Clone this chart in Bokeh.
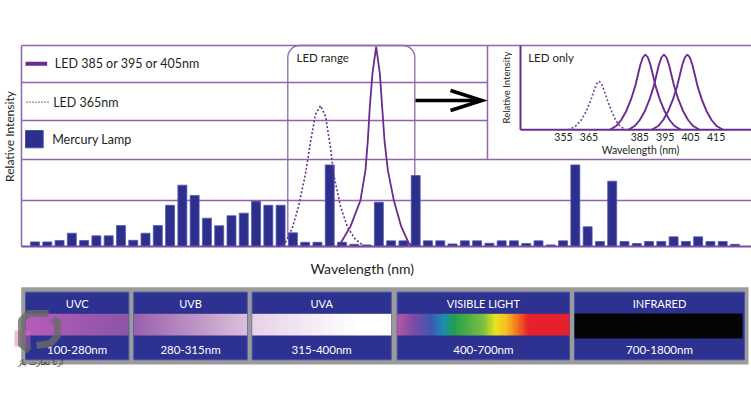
import math
import numpy as np
from bokeh.plotting import figure
from bokeh.models import Range1d
from bokeh.core.properties import value
from bokeh.embed import file_html
from bokeh.resources import INLINE

# ---------------- data ----------------
lamp_bin = list(range(1, 59))
lamp_intensity = [2.3, 2.3, 3.0, 6.6, 3.0, 5.3, 5.3, 10.4, 3.1, 6.6,
                  10.4, 20.5, 30.5, 25.4, 14.1, 10.3, 15.3, 16.6, 22.5, 20.5,
                  20.5, 6.8, 2.1, 2.1, 40.6, 2.1, 1.1, 0.8, 22.0, 2.8,
                  2.8, 35.3, 2.8, 2.8, 1.3, 2.8, 2.8, 1.6, 2.8, 2.8,
                  1.5, 2.8, 0.8, 2.8, 40.6, 9.8, 2.5, 32.5, 2.5, 1.5,
                  2.5, 2.5, 4.8, 2.5, 4.8, 2.5, 2.5, 1.1]

led365_pos = [20.83, 21.40, 21.97, 22.46, 23.03, 23.44, 23.84, 24.25, 24.66,
              25.07, 25.31, 25.88, 26.45, 27.10, 27.74]
led365_int = [0, 2.0, 9.5, 19.9, 36.3, 52.2, 65.7, 70.1, 64.7, 48.8, 36.3,
              19.9, 9.5, 3.5, 0.5]
led_main_pos = [25.71, 25.87, 26.69, 27.50, 27.91, 28.10, 28.26, 28.48, 28.78,
                29.08, 29.27, 29.46, 29.73, 30.22, 30.82, 31.44, 31.66]
led_main_int = [0, 1.5, 10, 22.9, 38.0, 52.7, 69.2, 86.1, 99.5, 86.1, 69.2,
                52.7, 38.0, 22.9, 10, 1.5, 0]

# inset "LED only" (wavelength nm, relative intensity)
inset_ticks = [355, 365, 385, 395, 405, 415]
inset365_nm = [356.7, 359.5, 361.8, 364.0, 365.7, 367.0, 368.0, 369.0, 370.0,
               371.0, 372.3, 374.0, 375.6, 377.5, 379.6]
inset365_rel = [0, 0.04, 0.12, 0.25, 0.39, 0.52, 0.61, 0.645, 0.61, 0.52,
                0.39, 0.24, 0.12, 0.04, 0]
inset385_nm = [373.2, 375.7, 377.7, 379.7, 381.5, 383.2, 384.2, 385.2, 386.2,
               387.2, 388.2, 389.2, 390.2, 391.2, 392.9, 394.7, 396.7, 398.7, 401.2]
inset395_nm = [380.5, 383.0, 385.0, 387.0, 388.8, 390.5, 391.5, 392.5, 393.5,
               394.5, 395.5, 396.5, 397.5, 398.5, 400.2, 402.0, 404.0, 406.0, 408.5]
inset405_nm = [389.7, 392.2, 394.2, 396.2, 398.0, 399.7, 400.7, 401.7, 402.7,
               403.7, 404.7, 405.7, 406.7, 407.7, 409.4, 411.2, 413.2, 415.2, 417.7]
inset_led_rel = [0, 0.05, 0.13, 0.25, 0.40, 0.58, 0.72, 0.86, 0.96, 1.0,
                 0.96, 0.86, 0.72, 0.58, 0.40, 0.25, 0.13, 0.05, 0]

legend_labels = ["LED 385 or 395 or 405nm", "LED 365nm", "Mercury Lamp"]
band_names = ["UVC", "UVB", "UVA", "VISIBLE LIGHT", "INFRARED"]
band_ranges = ["100-280nm", "280-315nm", "315-400nm", "400-700nm", "700-1800nm"]

# ---------------- layout ----------------
W, H = 751, 397
FONT = value("Lato")
PURPLE = "#6a2c91"
GRID = "#8e66ae"
BLUE = "#2c2f8c"
TXT = "#231f20"


def fit(d0, d1, p0, p1, total):
    s = (d1 - d0) / (p1 - p0)
    start = d0 - p0 * s
    return Range1d(start=start, end=start + total * s)


p = figure(width=W, height=H, output_backend="svg", toolbar_location=None,
           x_axis_type=None, y_axis_type=None,
           x_range=fit(1, 58, 34.5, 734.5, W),
           y_range=fit(0, 100, H - 246, H - 45, H),
           min_border=0, min_border_left=0, min_border_right=0,
           min_border_top=0, min_border_bottom=0)
p.outline_line_color = None
p.background_fill_color = "white"
p.border_fill_color = "white"
p.extra_x_ranges = {"px": Range1d(0, W), "nm": fit(355, 415, 563, 715.6, W)}
p.extra_y_ranges = {"px": Range1d(H, 0), "up": Range1d(0, H),
                    "ri": fit(0, 1, H - 129.3, H - 54, H)}

PX = dict(x_range_name="px", y_range_name="px")

# frame and row lines
p.multi_line(xs=[[21, 21], [21, 751], [21, 487], [21, 487], [21, 751], [21, 751], [487, 487]],
             ys=[[45, 246], [45, 45], [82, 82], [120, 120], [159, 159], [200, 200], [45, 159]],
             line_color=GRID, line_width=1.5, **PX)

# LED range rounded box
p.quad(left=[287.3], right=[414.3], top=[45], bottom=[246], fill_color=None,
       line_color=GRID, line_width=1.3, border_radius=12, **PX)

# mercury lamp bars
p.vbar(x=lamp_bin, top=lamp_intensity, bottom=0, width=0.73,
       fill_color=BLUE, line_color="#5358b0", line_width=0.8)

# baseline
p.line(x=[21, 751], y=[246, 246], line_color="#7b4f9f", line_width=2, **PX)

# LED curves (main)
p.line(x=led365_pos, y=led365_int, line_color=PURPLE, line_width=1.6,
       line_dash="2 2")
p.line(x=led_main_pos, y=led_main_int, line_color=PURPLE, line_width=1.8)

# legend
p.line(x=[25, 46.7], y=[63.3, 63.3], line_color=PURPLE, line_width=4, **PX)
p.line(x=[26, 48], y=[101.7, 101.7], line_color=TXT, line_width=1.2,
       line_dash="1 2", **PX)
p.quad(left=[25], right=[42.7], top=[130], bottom=[147.3], fill_color=BLUE,
       line_color="#4a50a8", line_width=1, **PX)
p.text(x=[54.3, 52.7, 51.7], y=[63.3, 101.7, 139.3], text=legend_labels,
       text_font=FONT, text_font_size="12.5px", text_color=TXT,
       text_baseline="middle", text_align="left", **PX)

# axis titles / labels
p.text(x=[9], y=[136], text=["Relative Intensity"], angle=math.pi / 2,
       text_font=FONT, text_font_size="12px", text_color=TXT,
       text_baseline="middle", text_align="center", **PX)
p.text(x=[361.7], y=[268], text=["Wavelength (nm)"], text_font=FONT,
       text_font_size="14px", text_color=TXT, text_baseline="middle",
       text_align="center", **PX)
p.text(x=[296], y=[56.7], text=["LED range"], text_font=FONT,
       text_font_size="11.5px", text_color=TXT, text_baseline="middle",
       text_align="left", **PX)

# arrow
p.multi_line(xs=[[415, 480], [450, 481.5, 450]], ys=[[100, 100], [90, 100, 110]],
             line_color="black", line_width=3.5, line_join="miter", **PX)

# ---------------- inset ----------------
p.multi_line(xs=[[520, 520], [520, 751]], ys=[[45, 129.3], [129.3, 129.3]],
             line_color=PURPLE, line_width=2, **PX)
p.line(x=inset365_nm, y=inset365_rel, x_range_name="nm", y_range_name="ri",
       line_color="#7a4a9e", line_width=1.7, line_dash="2 2")
for xs_nm in (inset385_nm, inset395_nm, inset405_nm):
    p.line(x=xs_nm, y=inset_led_rel, x_range_name="nm", y_range_name="ri",
           line_color=PURPLE, line_width=1.9)
p.text(x=inset_ticks, y=[136.7] * len(inset_ticks),
       text=[str(t) for t in inset_ticks], x_range_name="nm", y_range_name="px",
       text_font=FONT, text_font_size="10.5px", text_color=TXT,
       text_baseline="middle", text_align="center")
p.text(x=[640], y=[149.3], text=["Wavelength (nm)"], text_font=FONT,
       text_font_size="10.5px", text_color=TXT, text_baseline="middle",
       text_align="center", **PX)
p.text(x=[506], y=[87], text=["Relative Intensity"], angle=math.pi / 2,
       text_font=FONT, text_font_size="9.5px", text_color=TXT,
       text_baseline="middle", text_align="center", **PX)
p.text(x=[527.7], y=[56.7], text=["LED only"], text_font=FONT,
       text_font_size="11.5px", text_color=TXT, text_baseline="middle",
       text_align="left", **PX)

# ---------------- spectrum band ----------------
p.quad(left=[20.7], right=[748], top=[286.7], bottom=[364],
       fill_color="#9b9b9b", line_color=None, **PX)
box_l = [25, 133.3, 251.7, 396.7, 574]
box_r = [128.3, 246.7, 390.7, 569, 744]
p.quad(left=box_l, right=box_r, top=[291.7] * 5, bottom=[359.3] * 5,
       fill_color="#2d3190", line_color="#4650a6", line_width=1, **PX)


def rgb(h):
    h = h.lstrip("#")
    return [int(h[i:i + 2], 16) for i in (0, 2, 4)]


strip_stops = [
    [(0, "#b65cba"), (1, "#8b56a6")],
    [(0, "#9a60ac"), (1, "#dcc2dc")],
    [(0, "#e8d2e8"), (0.75, "#ffffff"), (1, "#ffffff")],
    [(0, "#b45aa0"), (0.1, "#7a4aa8"), (0.2, "#3c5ab4"), (0.27, "#1f8fb0"),
     (0.33, "#22a04e"), (0.5, "#80c040"), (0.57, "#eae222"), (0.63, "#f8c020"),
     (0.7, "#f07020"), (0.76, "#e8202e"), (1, "#e8202e")],
]
strip_top, strip_bot = 313.3, 335
for k, stops in enumerate(strip_stops):
    x0, x1 = box_l[k], box_r[k]
    n = 200
    t = (np.arange(n) + 0.5) / n
    ts = [s[0] for s in stops]
    cols = np.array([rgb(s[1]) for s in stops], dtype=float)
    r = np.interp(t, ts, cols[:, 0])
    g = np.interp(t, ts, cols[:, 1])
    b = np.interp(t, ts, cols[:, 2])
    img = np.empty((2, n), dtype=np.uint32)
    view = img.view(dtype=np.uint8).reshape((2, n, 4))
    for row in range(2):
        view[row, :, 0] = r.astype(np.uint8)
        view[row, :, 1] = g.astype(np.uint8)
        view[row, :, 2] = b.astype(np.uint8)
        view[row, :, 3] = 255
    p.image_rgba(image=[img], x=x0, y=H - strip_bot, dw=x1 - x0,
                 dh=strip_bot - strip_top, x_range_name="px", y_range_name="up")
p.quad(left=[box_l[4]], right=[box_r[4] - 2], top=[313], bottom=[338],
       fill_color="#050505", line_color=None, **PX)

cx = [(a + b) / 2 for a, b in zip(box_l, box_r)]
p.text(x=cx, y=[303.3] * 5, text=band_names, text_font=FONT,
       text_font_size="11px", text_color="white", text_baseline="middle",
       text_align="center", **PX)
p.text(x=cx, y=[348.8] * 5, text=band_ranges, text_font=FONT,
       text_font_size="11.5px", text_color="white", text_baseline="middle",
       text_align="center", **PX)

# watermark logo
p.quad(left=[14], right=[30], top=[330], bottom=[346], fill_color="#d070b0",
       fill_alpha=0.45, line_color=None, **PX)
p.multi_line(xs=[[48, 28, 21, 21, 29], [52, 57, 57, 50, 36]],
             ys=[[313, 313, 320, 344, 350], [318, 322, 335, 343, 345]],
             line_color="#6a6a6a", line_width=7, line_alpha=0.8,
             line_join="round", **PX)
p.text(x=[40], y=[362], text=["ارتا تجارت پاژ"], text_font=value("DejaVu Sans"),
       text_font_size="8px", text_color="#333333", text_baseline="middle",
       text_align="center", **PX)

open("out.html", "w").write(file_html(p, INLINE))
